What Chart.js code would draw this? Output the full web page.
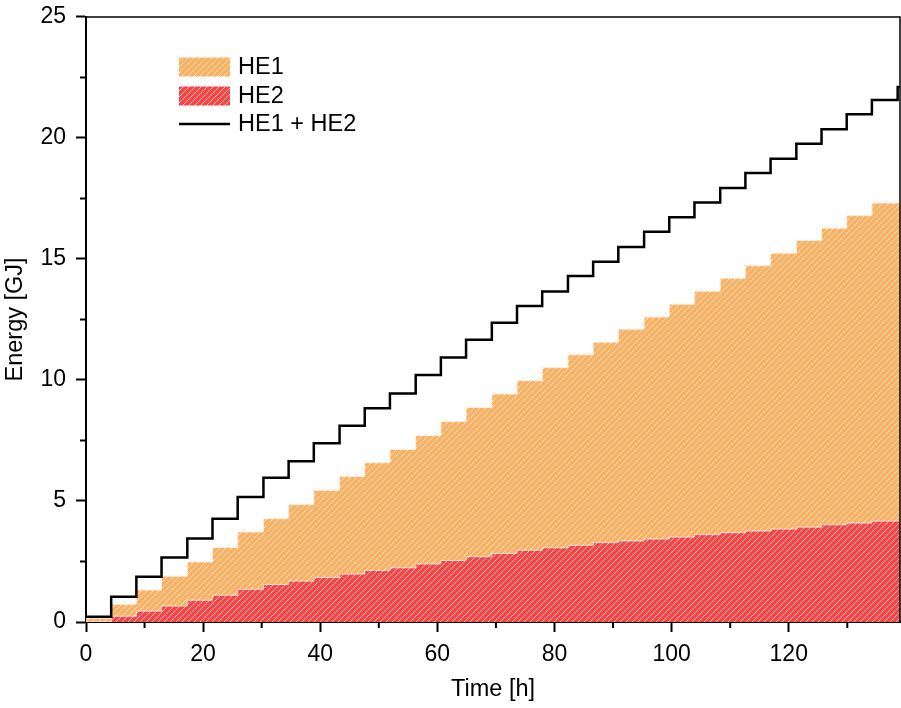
<!DOCTYPE html>
<html><head><meta charset="utf-8">
<script src="https://cdn.jsdelivr.net/npm/chart.js@4.4.1/dist/chart.umd.min.js"></script>
<style>html,body{margin:0;padding:0;background:#fff}#wrap{width:901px;height:708px}</style>
</head><body><div id="wrap"><canvas id="c" width="901" height="708"></canvas></div>
<script>
// Time [h] at each step (last value closes the final step)
const timeH = [0, 4.3, 8.6, 12.9, 17.3, 21.6, 25.9, 30.3, 34.6, 38.9, 43.3, 47.6, 51.9, 56.3, 60.6, 64.9, 69.3, 73.6, 77.9, 82.3, 86.6, 90.9, 95.3, 99.6, 103.9, 108.3, 112.6, 116.9, 121.3, 125.6, 129.9, 134.2, 138.6, 139];
// Energy [GJ]
const he1 = [0.15, 0.73, 1.32, 1.89, 2.48, 3.08, 3.72, 4.27, 4.85, 5.44, 6.01, 6.58, 7.13, 7.70, 8.28, 8.86, 9.42, 9.97, 10.51, 11.04, 11.56, 12.10, 12.60, 13.13, 13.67, 14.20, 14.72, 15.24, 15.76, 16.27, 16.79, 17.31, 17.31, 17.31];
const he2 = [0, 0.24, 0.45, 0.66, 0.90, 1.11, 1.35, 1.55, 1.69, 1.84, 1.98, 2.13, 2.24, 2.40, 2.54, 2.70, 2.83, 2.96, 3.07, 3.17, 3.28, 3.35, 3.43, 3.51, 3.61, 3.69, 3.76, 3.84, 3.92, 4.02, 4.09, 4.17, 4.17, 4.17];
const total = [0.22, 1.04, 1.87, 2.66, 3.45, 4.27, 5.16, 5.96, 6.64, 7.39, 8.11, 8.83, 9.44, 10.20, 10.93, 11.66, 12.36, 13.06, 13.65, 14.29, 14.88, 15.49, 16.12, 16.72, 17.33, 17.93, 18.55, 19.14, 19.76, 20.36, 20.98, 21.57, 22.10, 22.10];
const seriesNames = ['HE1', 'HE2', 'HE1 + HE2'];
const xTitle = 'Time [h]';
const yTitle = 'Energy [GJ]';
const xRange = [0, 139], yRange = [0, 25];
const xTickStep = 20, yTickStep = 5;

const FONT = '"Liberation Sans", Arial, sans-serif';
function hatch(base) {
  const c = document.createElement('canvas');
  c.width = 6; c.height = 6;
  const g = c.getContext('2d');
  g.fillStyle = base; g.fillRect(0, 0, 6, 6);
  g.strokeStyle = 'rgba(255,255,255,0.7)'; g.lineWidth = 1;
  g.beginPath();
  g.moveTo(0, 6); g.lineTo(6, 0);
  g.moveTo(-1, 1); g.lineTo(1, -1);
  g.moveTo(5, 7); g.lineTo(7, 5);
  g.stroke();
  return g.createPattern(c, 'repeat');
}
const orangeFill = hatch('#FFAF60');
const redFill = hatch('#F84444');
const pts = arr => arr.map((v, i) => ({x: timeH[i], y: v}));

const frameAndLegend = {
  id: 'frameAndLegend',
  afterDraw(chart) {
    const ctx = chart.ctx, a = chart.chartArea;
    const xs = chart.scales.x, ys = chart.scales.y;
    ctx.save();
    ctx.strokeStyle = '#000';
    ctx.lineWidth = 1.5;
    ctx.beginPath();
    ctx.moveTo(a.left, a.top); ctx.lineTo(a.right, a.top); ctx.lineTo(a.right, a.bottom);
    ctx.stroke();
    // minor ticks
    ctx.lineWidth = 2;
    ctx.beginPath();
    for (let v = xRange[0] + xTickStep / 2; v < xRange[1]; v += xTickStep) {
      const p = xs.getPixelForValue(v);
      ctx.moveTo(p, a.bottom); ctx.lineTo(p, a.bottom + 6);
    }
    for (let v = yRange[0] + yTickStep / 2; v < yRange[1]; v += yTickStep) {
      const p = ys.getPixelForValue(v);
      ctx.moveTo(a.left, p); ctx.lineTo(a.left - 6, p);
    }
    ctx.stroke();
    // legend
    const lx = 179, lw = 51, rows = [67, 96, 124];
    ctx.fillStyle = orangeFill; ctx.fillRect(lx, rows[0] - 9.5, lw, 19);
    ctx.fillStyle = redFill; ctx.fillRect(lx, rows[1] - 9.5, lw, 19);
    ctx.strokeStyle = '#000'; ctx.lineWidth = 2.5;
    ctx.beginPath(); ctx.moveTo(lx, rows[2]); ctx.lineTo(lx + lw, rows[2]); ctx.stroke();
    ctx.fillStyle = '#000';
    ctx.font = '23.5px ' + FONT;
    ctx.textBaseline = 'middle'; ctx.textAlign = 'left';
    seriesNames.forEach((n, i) => ctx.fillText(n, lx + lw + 8, rows[i] + 1));
    ctx.restore();
  }
};

new Chart(document.getElementById('c'), {
  type: 'line',
  data: {
    datasets: [
      {label: seriesNames[2], data: pts(total), stepped: 'before', borderColor: '#000', borderWidth: 2.5, pointRadius: 0, fill: false},
      {label: seriesNames[1], data: pts(he2), stepped: 'before', borderColor: 'rgba(255,235,235,0.9)', borderWidth: 1, backgroundColor: redFill, pointRadius: 0, fill: 'origin'},
      {label: seriesNames[0], data: pts(he1), stepped: 'before', borderColor: 'rgba(255,240,225,0.9)', borderWidth: 1, backgroundColor: orangeFill, pointRadius: 0, fill: 'origin'}
    ]
  },
  options: {
    responsive: false, animation: false, devicePixelRatio: 1,
    layout: {padding: {left: 0, top: 15, right: 1, bottom: 0}},
    plugins: {legend: {display: false}, tooltip: {enabled: false}},
    scales: {
      x: {
        type: 'linear', min: xRange[0], max: xRange[1],
        afterFit: s => { s.height = 86; },
        ticks: {stepSize: xTickStep, includeBounds: false, color: '#000', font: {family: FONT, size: 23}, padding: 9, maxRotation: 0},
        grid: {drawOnChartArea: false, drawTicks: true, tickLength: 10, tickWidth: 2, tickColor: '#000'},
        border: {display: true, color: '#000', width: 2},
        title: {display: true, text: xTitle, color: '#000', font: {family: FONT, size: 23.5}, padding: {top: 0, bottom: 4}}
      },
      y: {
        min: yRange[0], max: yRange[1],
        afterFit: s => { s.width = 86; },
        ticks: {stepSize: yTickStep, color: '#000', font: {family: FONT, size: 23, lineHeight: 0.6}, padding: 10},
        grid: {drawOnChartArea: false, drawTicks: true, tickLength: 10, tickWidth: 2, tickColor: '#000'},
        border: {display: true, color: '#000', width: 2},
        title: {display: true, text: yTitle, color: '#000', font: {family: FONT, size: 23.5}, padding: {top: 1, bottom: 0}}
      }
    }
  },
  plugins: [frameAndLegend]
});
</script></body></html>
